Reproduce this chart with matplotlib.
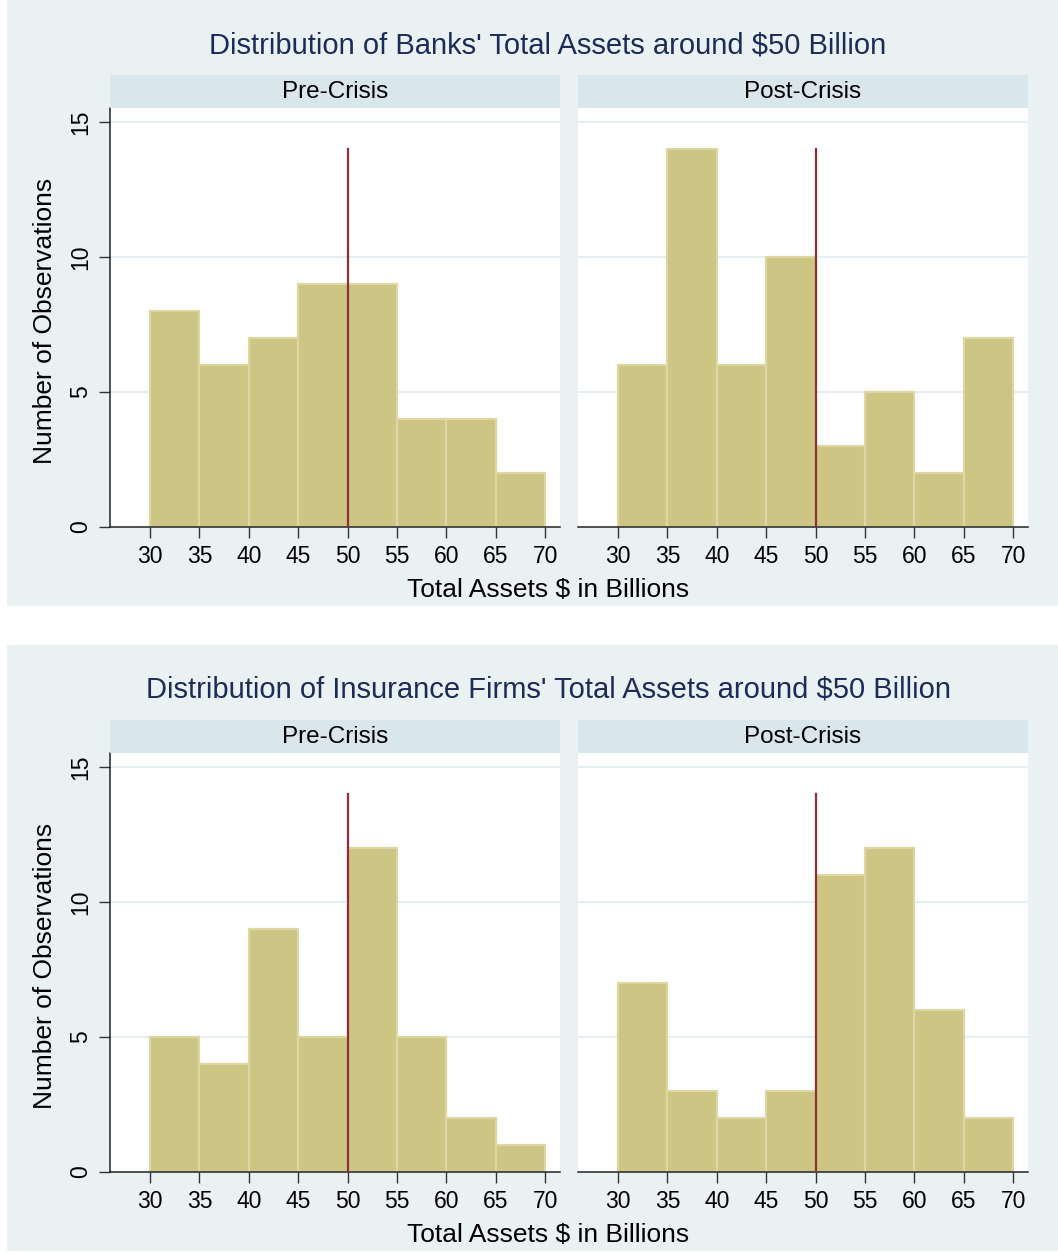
import matplotlib
matplotlib.use("Agg")
import matplotlib.pyplot as plt
from matplotlib.patches import Rectangle

plt.rcParams['font.family'] = ['Liberation Sans', 'DejaVu Sans']

bin_edges = [30, 35, 40, 45, 50, 55, 60, 65, 70]
banks_pre = [8, 6, 7, 9, 9, 4, 4, 2]
banks_post = [6, 14, 6, 10, 3, 5, 2, 7]
ins_pre = [5, 4, 9, 5, 12, 5, 2, 1]
ins_post = [7, 3, 2, 3, 11, 12, 6, 2]
titles = ["Distribution of Banks' Total Assets around $50 Billion",
          "Distribution of Insurance Firms' Total Assets around $50 Billion"]
facets = ["Pre-Crisis", "Post-Crisis"]
threshold = 50
line_top = 14
xticks = [30, 35, 40, 45, 50, 55, 60, 65, 70]
yticks = [0, 5, 10, 15]

W, H = 1058, 1253
fig = plt.figure(figsize=(W / 100, H / 100), dpi=100)
fig.patch.set_facecolor('white')

BG = '#eaf1f3'
STRIP = '#d9e6eb'
BAR = '#cdc583'
BAREDGE = '#dcd7a3'
RED = '#8e2f38'
TITLE = '#1c2b58'


def fx(px):
    return px / W


def fy(py):
    return 1 - py / H


data = [(banks_pre, banks_post), (ins_pre, ins_post)]
for p, (pre, post) in enumerate(data):
    off = p * 645
    # panel background
    fig.patches.append(Rectangle((fx(7), fy(606 + off)), fx(W - 7), 606 / H,
                                 transform=fig.transFigure, facecolor=BG,
                                 edgecolor='none', zorder=-10))
    fig.text(fx(548), fy(45 + off), titles[p], ha='center', va='center',
             fontsize=21, color=TITLE)
    for j, (counts, lab) in enumerate(zip((pre, post), facets)):
        x0 = 110 if j == 0 else 578
        ax = fig.add_axes([fx(x0), fy(527 + off), fx(450), 419 / H])
        ax.set_facecolor('white')
        ax.bar(bin_edges[:-1], counts, width=5, align='edge', color=BAR,
               edgecolor=BAREDGE, linewidth=1.6, zorder=2)
        ax.plot([threshold, threshold], [0, line_top], color=RED, lw=1.6, zorder=3)
        ax.set_xlim(25.95, 71.5)
        ax.set_ylim(0, 15.52)
        for yv in [5, 10, 15]:
            ax.axhline(yv, color='#e6eef1', lw=1.5, zorder=1)
        ax.set_xticks(xticks)
        ax.set_xticklabels([str(t) for t in xticks], fontsize=16.5)
        ax.tick_params(axis='x', length=8, width=1, color='#333333', pad=5)
        for s in ['top', 'right']:
            ax.spines[s].set_visible(False)
        ax.spines['bottom'].set_color('#222222')
        ax.spines['bottom'].set_linewidth(1.1)
        if j == 0:
            ax.set_yticks(yticks)
            ax.set_yticklabels([str(t) for t in yticks], fontsize=16.5,
                               rotation=90, va='center')
            ax.tick_params(axis='y', length=8, width=1, color='#333333', pad=5)
            ax.spines['left'].set_color('#222222')
            ax.spines['left'].set_linewidth(1.1)
        else:
            ax.set_yticks([])
            ax.spines['left'].set_visible(False)
        # strip
        sax = fig.add_axes([fx(x0), fy(108 + off), fx(450), 33 / H])
        sax.set_facecolor(STRIP)
        sax.set_xticks([])
        sax.set_yticks([])
        for s in sax.spines.values():
            s.set_visible(False)
        sax.text(0.5, 0.48, lab, ha='center', va='center', fontsize=17.5,
                 color='black', transform=sax.transAxes)
    fig.text(fx(548), fy(590 + off), "Total Assets $ in Billions", ha='center',
             va='center', fontsize=19)
    fig.text(fx(45), fy(321 + off), "Number of Observations", ha='center',
             va='center', rotation=90, fontsize=19)

fig.savefig('out.png', dpi=100, facecolor='white')
